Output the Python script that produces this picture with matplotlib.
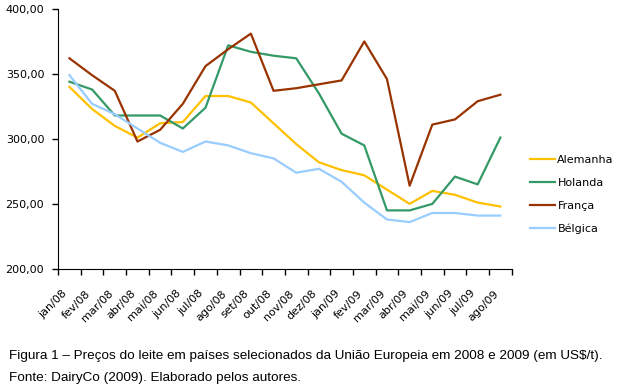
import numpy as np
import matplotlib
matplotlib.use("Agg")
import matplotlib.pyplot as plt
from matplotlib.ticker import FuncFormatter

# months (jan/08 .. ago/09)
months = ["jan/08", "fev/08", "mar/08", "abr/08", "mai/08", "jun/08", "jul/08",
          "ago/08", "set/08", "out/08", "nov/08", "dez/08", "jan/09", "fev/09",
          "mar/09", "abr/09", "mai/09", "jun/09", "jul/09", "ago/09"]

# milk prices, US$/t
alemanha = [340, 323, 310, 301, 312, 313, 333, 333, 328, 312, 296, 282,
            276, 272, 261, 250, 260, 257, 251, 248]
holanda = [344, 338, 318, 318, 318, 308, 324, 372, 367, 364, 362, 335,
           304, 295, 245, 245, 250, 271, 265, 301]
franca = [362, 349, 337, 298, 307, 327, 356, 369, 381, 337, 339, 342,
          345, 375, 346, 264, 311, 315, 329, 334]
belgica = [349, 327, 319, 308, 297, 290, 298, 295, 289, 285, 274, 277,
           267, 251, 238, 236, 243, 243, 241, 241]

series = [
    ("Alemanha", alemanha, "#FFC000"),
    ("Holanda", holanda, "#339966"),
    ("França", franca, "#993300"),
    ("Bélgica", belgica, "#99CCFF"),
]

fig = plt.figure(figsize=(6.18, 3.88), dpi=100)
ax = fig.add_axes([0.094, 0.307, 0.734, 0.670])

x = np.arange(len(months))
for name, vals, col in series:
    ax.plot(x, vals, color=col, lw=1.6, label=name)

ax.set_xlim(-0.5, len(months) - 0.5)
ax.set_ylim(200, 400)
ax.set_yticks(np.arange(200, 401, 50))
ax.yaxis.set_major_formatter(FuncFormatter(lambda v, p: f"{v:.2f}".replace(".", ",")))

# labels at category centres, tick marks at boundaries (Excel style)
ax.set_xticks(x)
ax.set_xticklabels(months, rotation=45, ha="right", va="top", fontsize=8)
ax.set_xticks(np.arange(-0.5, len(months)), minor=True)
ax.tick_params(axis="x", which="major", length=0, pad=14)
ax.tick_params(axis="x", which="minor", length=4, width=1, direction="out")
ax.tick_params(axis="y", length=4, width=1, direction="out", labelsize=8, pad=6)

for s in ["top", "right"]:
    ax.spines[s].set_visible(False)
for s in ["left", "bottom"]:
    ax.spines[s].set_color("black")

ax.legend(loc="upper left", bbox_to_anchor=(0.857, 0.600), bbox_transform=fig.transFigure,
          frameon=False, fontsize=8, handlelength=2.3, handletextpad=0.2,
          labelspacing=1.15, borderaxespad=0, borderpad=0)

fig.text(0.015, 0.083, "Figura 1 – Preços do leite em países selecionados da União Europeia "
         "em 2008 e 2009 (em US$/t).", fontsize=9.7, family="Liberation Sans", va="center")
fig.text(0.015, 0.026, "Fonte: DairyCo (2009). Elaborado pelos autores.",
         fontsize=9.7, family="Liberation Sans", va="center")

fig.savefig("out.png", dpi=100)
